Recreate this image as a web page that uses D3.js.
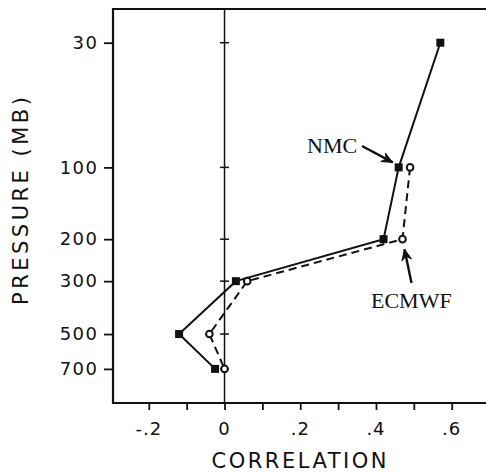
<!DOCTYPE html>
<html>
<head>
<meta charset="utf-8">
<script src="https://cdn.jsdelivr.net/npm/d3@7"></script>
<style>
  html, body { margin: 0; padding: 0; background: #fff; }
  svg { display: block; }
</style>
</head>
<body>
<svg id="chart" width="486" height="472"></svg>
<script>
// ---- data ----
const pressureTicks = [30, 100, 200, 300, 500, 700];
const xTickValues = [-0.2, -0.1, 0, 0.1, 0.2, 0.3, 0.4, 0.5, 0.6, 0.7];
const xTickLabels = ["-.2", "0", ".2", ".4", ".6"];
const xLabelValues = [-0.2, 0, 0.2, 0.4, 0.6];

const nmcLevels = [30, 100, 200, 300, 500, 700];
const nmcValues = [0.57, 0.46, 0.42, 0.03, -0.12, -0.025];

const ecmwfLevels = [100, 200, 300, 500, 700];
const ecmwfValues = [0.49, 0.47, 0.06, -0.04, 0.0];

const nmcData = nmcLevels.map((p, i) => ({ p, r: nmcValues[i] }));
const ecmwfData = ecmwfLevels.map((p, i) => ({ p, r: ecmwfValues[i] }));

// ---- layout ----
const frameL = 113, frameT = 9, frameB = 403, frameR = 486;
const svg = d3.select("#chart");

const x = d3.scaleLinear().domain([-0.2, 0.6]).range([148.8, 451.7]);
const y = d3.scaleLog().domain([30, 700]).range([42.7, 368.9]);

const ink = "#111";

// frame: top, left, bottom (right side cut off)
svg.append("line").attr("x1", frameL).attr("x2", frameR).attr("y1", frameT).attr("y2", frameT)
  .attr("stroke", ink).attr("stroke-width", 2.2);
svg.append("line").attr("x1", frameL).attr("x2", frameL).attr("y1", frameT - 1).attr("y2", frameB + 1)
  .attr("stroke", ink).attr("stroke-width", 2.2);
svg.append("line").attr("x1", frameL).attr("x2", frameR).attr("y1", frameB).attr("y2", frameB)
  .attr("stroke", ink).attr("stroke-width", 2.2);

// zero line
svg.append("line").attr("x1", x(0)).attr("x2", x(0)).attr("y1", frameT).attr("y2", frameB)
  .attr("stroke", ink).attr("stroke-width", 1.5);

// ticks on zero line
svg.append("g").selectAll("line").data(pressureTicks).join("line")
  .attr("x1", x(0) - 4.5).attr("x2", x(0) + 4.5)
  .attr("y1", d => y(d)).attr("y2", d => y(d))
  .attr("stroke", ink).attr("stroke-width", 1.5);

// left axis
const yAxis = d3.axisLeft(y).tickValues(pressureTicks).tickFormat(d3.format("d"))
  .tickSize(9).tickPadding(7);
const gy = svg.append("g").attr("transform", `translate(${frameL},0)`).call(yAxis);
gy.select(".domain").remove();
gy.selectAll(".tick line").attr("stroke", ink).attr("stroke-width", 1.8);
gy.selectAll(".tick text").attr("font-family", "DejaVu Sans").attr("font-size", 18)
  .attr("fill", ink).attr("letter-spacing", 1.5).attr("dx", 1.5);

// bottom axis ticks
const xAxis = d3.axisBottom(x).tickValues(xTickValues).tickSize(7).tickFormat("");
const gx = svg.append("g").attr("transform", `translate(0,${frameB})`).call(xAxis);
gx.select(".domain").remove();
gx.selectAll(".tick line").attr("stroke", ink).attr("stroke-width", 1.8);

// bottom tick labels
svg.append("g").selectAll("text").data(xLabelValues).join("text")
  .attr("x", d => x(d)).attr("y", 435)
  .attr("text-anchor", "middle")
  .attr("font-family", "DejaVu Sans").attr("font-size", 18).attr("fill", ink)
  .attr("letter-spacing", 1)
  .text((d, i) => xTickLabels[i]);

// axis titles
svg.append("text")
  .attr("x", 299).attr("y", 468)
  .attr("text-anchor", "middle")
  .attr("font-family", "DejaVu Sans").attr("font-size", 21).attr("fill", ink)
  .attr("textLength", 175).attr("lengthAdjust", "spacing")
  .text("CORRELATION");

svg.append("text")
  .attr("transform", "translate(28,201) rotate(-90)")
  .attr("text-anchor", "middle")
  .attr("font-family", "DejaVu Sans").attr("font-size", 21).attr("fill", ink)
  .attr("textLength", 208).attr("lengthAdjust", "spacing")
  .text("PRESSURE (MB)");

// lines
const line = d3.line().x(d => x(d.r)).y(d => y(d.p));
svg.append("path").datum(ecmwfData).attr("d", line)
  .attr("fill", "none").attr("stroke", ink).attr("stroke-width", 2)
  .attr("stroke-dasharray", "8,5");
svg.append("path").datum(nmcData).attr("d", line)
  .attr("fill", "none").attr("stroke", ink).attr("stroke-width", 2);

// markers
svg.append("g").selectAll("circle").data(ecmwfData).join("circle")
  .attr("cx", d => x(d.r)).attr("cy", d => y(d.p)).attr("r", 3.3)
  .attr("fill", "#fff").attr("stroke", ink).attr("stroke-width", 2);
svg.append("g").selectAll("rect").data(nmcData).join("rect")
  .attr("x", d => x(d.r) - 4).attr("y", d => y(d.p) - 4)
  .attr("width", 8).attr("height", 8).attr("fill", ink);

// annotations
function arrow(x1, y1, x2, y2) {
  svg.append("line").attr("x1", x1).attr("y1", y1).attr("x2", x2).attr("y2", y2)
    .attr("stroke", ink).attr("stroke-width", 2.4);
  const a = Math.atan2(y2 - y1, x2 - x1);
  const L = 12, w = 0.42;
  const p1 = [x2 - L * Math.cos(a - w), y2 - L * Math.sin(a - w)];
  const p2 = [x2 - L * Math.cos(a + w), y2 - L * Math.sin(a + w)];
  const pm = [x2 - L * 0.6 * Math.cos(a), y2 - L * 0.6 * Math.sin(a)];
  svg.append("path")
    .attr("d", `M${x2},${y2}L${p1[0]},${p1[1]}L${pm[0]},${pm[1]}L${p2[0]},${p2[1]}Z`)
    .attr("fill", ink).attr("stroke", ink).attr("stroke-width", 1);
}

const nmcPt = nmcData[1];
const nx = x(nmcPt.r), ny = y(nmcPt.p);
svg.append("text").attr("x", 307).attr("y", 153)
  .attr("font-family", "Liberation Serif").attr("font-size", 22).attr("fill", ink)
  .text("NMC");
arrow(362, 146, nx - 6, ny - 5);

const ecPt = ecmwfData[1];
const ex = x(ecPt.r), ey = y(ecPt.p);
svg.append("text").attr("x", 371).attr("y", 308)
  .attr("font-family", "Liberation Serif").attr("font-size", 22).attr("fill", ink)
  .text("ECMWF");
arrow(411.5, 283, ex + 2, ey + 10);
</script>
</body>
</html>
